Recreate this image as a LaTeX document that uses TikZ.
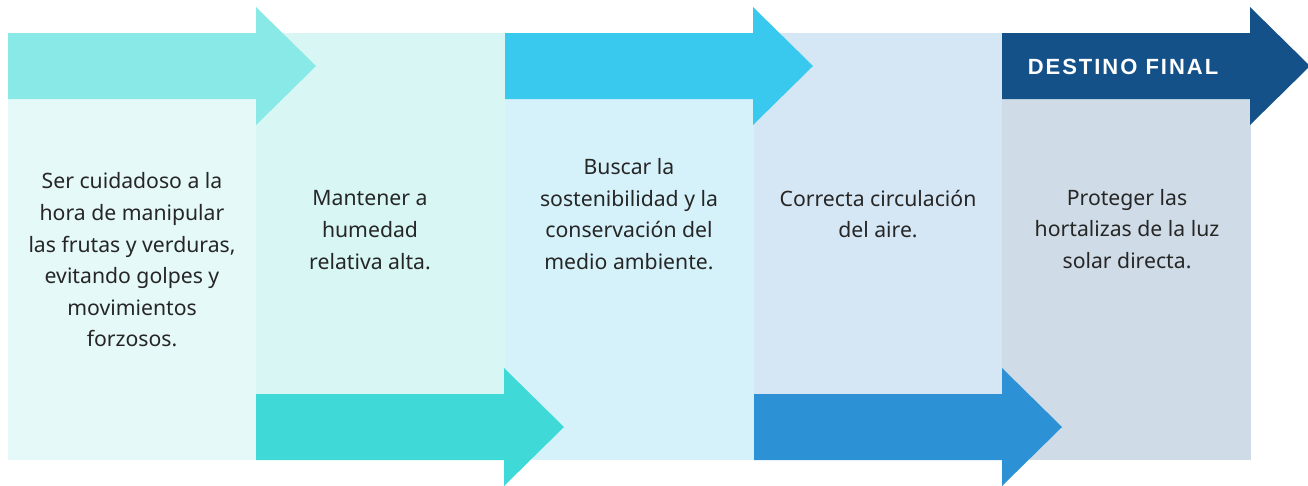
\documentclass[tikz,border=0pt]{standalone}
\usepackage{fontspec}
\setmainfont{Noto Sans}
\newfontfamily\titlefont[LetterSpace=9]{Liberation Sans}
\usetikzlibrary{positioning}
\definecolor{colA}{HTML}{E6F9F9}
\definecolor{colB}{HTML}{D7F6F4}
\definecolor{colC}{HTML}{D5F2FA}
\definecolor{colD}{HTML}{D5E7F4}
\definecolor{colE}{HTML}{CFDCE7}
\definecolor{arrowA}{HTML}{88E9E6}
\definecolor{arrowB}{HTML}{3FDAD7}
\definecolor{arrowC}{HTML}{39C9EF}
\definecolor{arrowD}{HTML}{2D91D5}
\definecolor{arrowE}{HTML}{155189}
\definecolor{ink}{HTML}{262626}
\tikzstyle{label text}=[align=center, text=ink, inner sep=0pt, font=\fontsize{21.2}{31.6}\selectfont]
\tikzstyle{title text}=[text=white, inner sep=0pt, font=\titlefont\fontsize{22}{24}\selectfont\bfseries]

\begin{document}
\begin{tikzpicture}[x=1pt, y=-1pt]
      \useasboundingbox (0,0) rectangle (1308,485);

      % columns
      \foreach \x/\c in {8/colA, 256/colB, 505/colC, 754/colD, 1002/colE}{
        \fill[\c] (\x,33) rectangle ++(249,427);
      }

      % arrows on top
      \foreach \x/\c in {8/arrowA, 505/arrowC, 1002/arrowE}{
        \fill[\c] (\x,33) -- ++(248,0) -- ++(0,-26) -- ++(60,59) -- ++(-60,59)
          -- ++(0,-26) -- ++(-248,0) -- cycle;
      }
      % arrows at the bottom
      \foreach \x/\c in {256/arrowB, 754/arrowD}{
        \fill[\c] (\x,394) -- ++(248,0) -- ++(0,-26) -- ++(60,59) -- ++(-60,59)
          -- ++(0,-26) -- ++(-248,0) -- cycle;
      }

      \node[title text] (title) at (1123,67) {DESTINO FINAL};

      \node[label text] (textA) at (132,260) {Ser cuidadoso a la\\hora de manipular\\las frutas y verduras,\\evitando golpes y\\movimientos\\forzosos.};
      \node[label text] (textB) at (370,230) {Mantener a\\humedad\\relativa alta.};
      \node[label text] (textC) at (629,214) {Buscar la\\sostenibilidad y la\\conservación del\\medio ambiente.};
      \node[label text] (textD) at (878,214) {Correcta circulación\\del aire.};
      \node[label text] (textE) at (1127,229) {Proteger las\\hortalizas de la luz\\solar directa.};
    \end{tikzpicture}
\end{document}
